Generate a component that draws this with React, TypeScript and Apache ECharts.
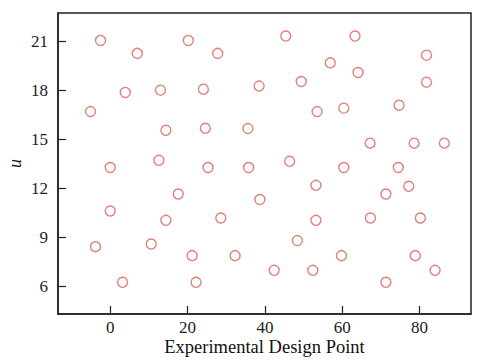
import React, { useEffect, useRef } from "react";
import * as echarts from "echarts";

const xValues = [
  -2.5, 7.0, 20.2, 27.8, 45.4, 63.3, 81.8, 56.9, 64.1, 49.4, 81.8, 38.5, 3.9, 13.0,
  24.1, -5.1, 53.5, 60.4, 74.7, 14.4, 24.6, 35.6, 67.2, 78.6, 86.4, 0.0, 12.6, 25.3,
  35.8, 46.4, 60.4, 74.5, 53.2, 77.2, 17.6, 71.3, 38.7, 0.0, 14.4, 28.6, 53.2, 67.3,
  80.2, -3.8, 10.6, 48.4, 21.2, 32.3, 59.8, 78.9, 42.4, 52.4, 84.0, 3.2, 22.2, 71.3,
];
const uValues = [
  21.06, 20.27, 21.06, 20.27, 21.33, 21.33, 20.16, 19.69, 19.1, 18.55, 18.51, 18.27,
  17.88, 18.02, 18.08, 16.71, 16.71, 16.92, 17.1, 15.57, 15.69, 15.67, 14.78, 14.78,
  14.78, 13.29, 13.73, 13.29, 13.29, 13.67, 13.29, 13.29, 12.2, 12.14, 11.67, 11.67,
  11.33, 10.63, 10.06, 10.2, 10.06, 10.2, 10.2, 8.45, 8.61, 8.82, 7.9, 7.9, 7.9, 7.9,
  7.0, 7.0, 7.0, 6.27, 6.27, 6.27,
];
const xTicks = [0, 20, 40, 60, 80];
const yTicks = [6, 9, 12, 15, 18, 21];

const FONT = "'Liberation Serif', 'Times New Roman', serif";

export default function App() {
  const ref = useRef<HTMLDivElement>(null);
  useEffect(() => {
    if (!ref.current) return;
    const chart = echarts.init(ref.current, undefined, { renderer: "svg" });
    const data = xValues.map((x, i) => [x, uValues[i]]);
    const tickLabel = (margin: number) => ({
      fontFamily: FONT,
      fontSize: 17,
      color: "#222",
      margin,
    });
    chart.setOption({
      animation: false,
      backgroundColor: "#ffffff",
      textStyle: { fontFamily: FONT },
      grid: {
        left: 58,
        right: 9,
        top: 13,
        bottom: 46,
        containLabel: false,
        outerBoundsMode: "none",
        show: true,
        borderColor: "#222",
        borderWidth: 1.5,
        backgroundColor: "transparent",
      },
      xAxis: {
        type: "value",
        min: -13.5,
        max: 93.3,
        name: "Experimental Design Point",
        nameLocation: "middle",
        nameGap: 23,
        nameMoveOverlap: false,
        nameTextStyle: { fontFamily: FONT, fontSize: 18.5, color: "#111" },
        splitLine: { show: false },
        axisLine: { show: true, onZero: false, lineStyle: { color: "#222", width: 1.5 } },
        axisTick: { show: true, inside: true, length: 8, customValues: xTicks, lineStyle: { color: "#222", width: 1.2 } },
        axisLabel: { ...tickLabel(5), customValues: xTicks },
      },
      yAxis: {
        type: "value",
        min: 4.33,
        max: 22.74,
        name: "u",
        nameLocation: "middle",
        nameGap: 34,
        nameMoveOverlap: false,
        nameTextStyle: { fontFamily: FONT, fontSize: 18, fontStyle: "italic", color: "#111" },
        splitLine: { show: false },
        axisLine: { show: true, onZero: false, lineStyle: { color: "#222", width: 1.5 } },
        axisTick: { show: true, inside: true, length: 8, customValues: yTicks, lineStyle: { color: "#222", width: 1.2 } },
        axisLabel: { ...tickLabel(10), customValues: yTicks },
      },
      series: [
        {
          type: "scatter",
          data,
          symbol: "circle",
          symbolSize: 10,
          itemStyle: { color: "transparent", borderColor: "#d9625b", borderWidth: 1.4 },
        },
      ],
    });
    return () => chart.dispose();
  }, []);
  return <div ref={ref} style={{ position: "absolute", left: 0, top: 0, width: 480, height: 360 }} />;
}
